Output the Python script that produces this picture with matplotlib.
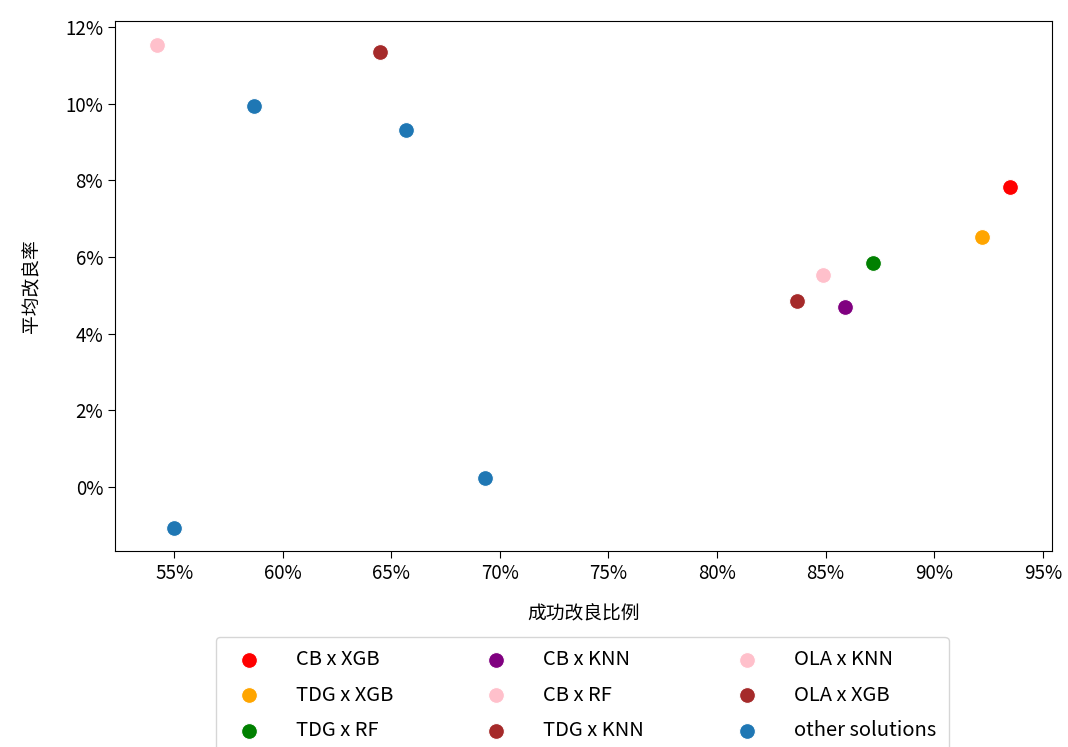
import matplotlib
matplotlib.use("Agg")
import matplotlib.pyplot as plt
from matplotlib.ticker import FuncFormatter

plt.rcParams['font.family'] = ['Noto Sans CJK SC', 'DejaVu Sans']

# named solutions: success ratio (%), mean improvement (%)
labels = ["CB x XGB", "TDG x XGB", "TDG x RF", "CB x KNN", "CB x RF",
          "TDG x KNN", "OLA x KNN", "OLA x XGB"]
colors = ["red", "orange", "green", "purple", "pink", "brown", "pink", "brown"]
succ = [93.5, 92.2, 87.2, 85.9, 84.9, 83.7, 54.2, 64.5]
impr = [7.83, 6.52, 5.84, 4.70, 5.53, 4.85, 11.53, 11.35]

# other solutions
other_succ = [58.7, 65.7, 69.3, 55.0]
other_impr = [9.94, 9.31, 0.23, -1.07]

fig = plt.figure(figsize=(10.68, 7.47), dpi=100)
ax = fig.add_axes([0.1077, 0.2624, 0.8773, 0.7095])

for lab, c, x, y in zip(labels, colors, succ, impr):
    ax.scatter(x, y, s=130, color=c, edgecolor='white', linewidth=0.8, label=lab)
ax.scatter(other_succ, other_impr, s=130, color='#1f77b4', edgecolor='white',
           linewidth=0.8, label="other solutions")

ax.set_xlim(52.28, 95.42)
ax.set_ylim(-1.67, 12.16)
ax.set_xticks(range(55, 96, 5))
ax.set_yticks(range(0, 13, 2))
pct = FuncFormatter(lambda v, p: f"{v:.0f}%")
ax.xaxis.set_major_formatter(pct)
ax.yaxis.set_major_formatter(pct)
ax.tick_params(labelsize=13.5, length=5)
ax.set_xlabel("成功改良比例", fontsize=13.5, labelpad=14)
ax.set_ylabel("平均改良率", fontsize=13.5, labelpad=16)

fig.legend(loc='upper center', bbox_to_anchor=(0.5454, 0.1473), ncol=3,
           fontsize=14.5, columnspacing=4.1, handletextpad=1.35,
           labelspacing=0.72, borderpad=0.6, borderaxespad=0, frameon=True)

fig.savefig("out.png", dpi=100)
